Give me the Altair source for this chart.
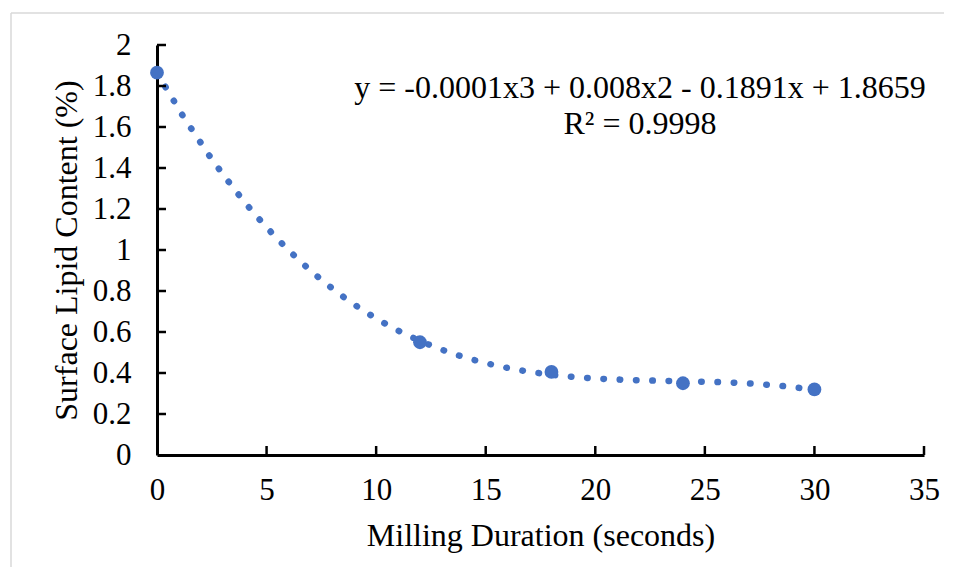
import altair as alt
import pandas as pd

# ---- data ----
duration = [0, 12, 18, 24, 30]
lipid = [1.865, 0.55, 0.405, 0.35, 0.32]
x_ticks = [0, 5, 10, 15, 20, 25, 30, 35]
y_ticks = [0, 0.2, 0.4, 0.6, 0.8, 1.0, 1.2, 1.4, 1.6, 1.8, 2.0]
equation_text = "y = -0.0001x3 + 0.008x2 - 0.1891x + 1.8659"
r2_text = "R² = 0.9998"
x_title = "Milling Duration (seconds)"
y_title = "Surface Lipid Content (%)"

FONT = "Liberation Serif"
BLUE = "#4472C4"
W, H = 767, 410

df = pd.DataFrame({"duration": duration, "lipid": lipid})
xs = alt.Scale(domain=[0, 35], nice=False, zero=False)
ys = alt.Scale(domain=[0, 2], nice=False, zero=False)

common_axis = dict(
    grid=False, ticks=False, tickSize=0, domainColor="black", domainWidth=3,
    labelFont=FONT, labelFontSize=31, labelColor="black", labelFlush=False,
    labelOverlap=False, titleFont=FONT, titleFontSize=32, titleFontWeight="normal",
    titleColor="black",
)

x_axis = alt.Axis(values=x_ticks, title=x_title, labelPadding=20, titlePadding=15, **common_axis)
y_axis = alt.Axis(values=y_ticks, title=y_title, format="~g", labelPadding=26, titlePadding=9, **common_axis)

frame_top = alt.Chart(pd.DataFrame({"a": [0]})).mark_rule(
    color="#d9d9d9", strokeWidth=1.5
).encode(x=alt.value(-146), x2=alt.value(800), y=alt.value(-32))

frame_left = alt.Chart(pd.DataFrame({"a": [0]})).mark_rule(
    color="#d9d9d9", strokeWidth=1.5
).encode(x=alt.value(-146), y=alt.value(-32), y2=alt.value(570))

trend = alt.Chart(df).transform_regression(
    "duration", "lipid", method="poly", order=3, extent=[0, 30]
).mark_line(
    color=BLUE, strokeWidth=6.5, strokeCap="round", strokeDash=[0.5, 15.8]
).encode(
    x=alt.X("duration:Q", scale=xs, axis=x_axis),
    y=alt.Y("lipid:Q", scale=ys, axis=y_axis),
)

points = alt.Chart(df).mark_circle(color=BLUE, opacity=1, size=190).encode(
    x=alt.X("duration:Q", scale=xs, axis=x_axis),
    y=alt.Y("lipid:Q", scale=ys, axis=y_axis),
)

ytick_marks = alt.Chart(pd.DataFrame({"lipid": y_ticks[1:]})).mark_rule(
    color="black", strokeWidth=2.5
).encode(y=alt.Y("lipid:Q", scale=ys, axis=y_axis), x=alt.value(0), x2=alt.value(9))

xtick_marks = alt.Chart(pd.DataFrame({"duration": x_ticks[1:]})).mark_rule(
    color="black", strokeWidth=2.5
).encode(x=alt.X("duration:Q", scale=xs, axis=x_axis), y=alt.value(H), y2=alt.value(H - 9))

eq = alt.Chart(pd.DataFrame({"t": [equation_text]})).mark_text(
    font=FONT, fontSize=32, color="black", align="center", baseline="middle"
).encode(text="t:N", x=alt.value(483), y=alt.value(43))

r2 = alt.Chart(pd.DataFrame({"t": [r2_text]})).mark_text(
    font=FONT, fontSize=32, color="black", align="center", baseline="middle"
).encode(text="t:N", x=alt.value(483), y=alt.value(79))

chart = alt.layer(trend, points, ytick_marks, xtick_marks, eq, r2, frame_top, frame_left).properties(
    width=W, height=H,
    autosize=alt.AutoSizeParams(type="none"),
    padding={"left": 149, "top": 37, "right": 20, "bottom": 112},
    background="white",
).configure_view(stroke=None)

chart.save("out.html", embed_options={"renderer": "svg", "actions": False})
